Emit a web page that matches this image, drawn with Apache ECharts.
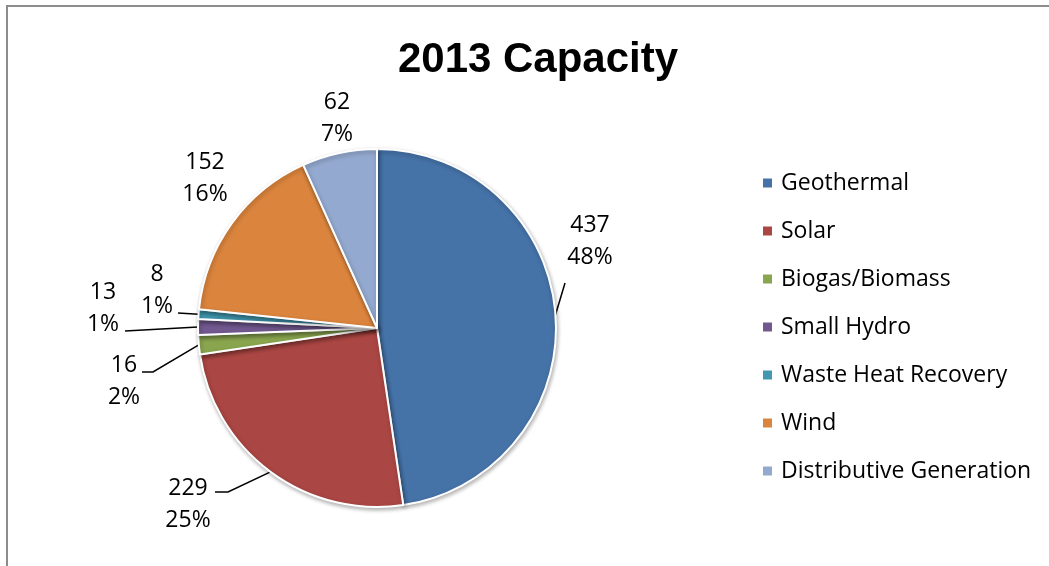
<!DOCTYPE html>
<html><head><meta charset="utf-8">
<script src="https://cdn.jsdelivr.net/npm/echarts@6/dist/echarts.min.js"></script>
<style>html,body{margin:0;padding:0;background:#fff;}#c{width:1049px;height:566px;}</style>
</head><body><div id="c"></div>
<script>
const categories = ['Geothermal','Solar','Biogas/Biomass','Small Hydro','Waste Heat Recovery','Wind','Distributive Generation'];
const values = [437, 229, 16, 13, 8, 152, 62];
const percentLabels = ['48%','25%','2%','1%','1%','16%','7%'];
const colors = ['#4572A7','#AA4643','#89A54E','#71588F','#4198AF','#DB843D','#93A9CF'];

// label placement (layout only, not data): centre of each label block, and leader-line bend/end points
const labelLayoutSpec = [
  {at:[590,241], bend:[565,283], end:[565,283]},
  {at:[188,504], bend:[228,492], end:[215,492]},
  {at:[124,381], bend:[153,372], end:[142,372]},
  {at:[103,308], bend:[125,331], end:[125,331]},
  {at:[157,290], bend:[178,313], end:[178,313]},
  {at:[205,178], bend:null},
  {at:[337,118], bend:null}
];

const chart = echarts.init(document.getElementById('c'));
const FONT = 'Open Sans';
chart.setOption({
  animation: false,
  graphic: [{type:'rect', shape:{x:7,y:6,width:1100,height:600}, style:{fill:'none', stroke:'#8c8c8c', lineWidth:2}}],
  title: {text:'2013 Capacity', left: 533, top: 34, textAlign:'center',
    textStyle:{fontFamily:'Liberation Sans', fontWeight:'bold', fontSize:42, color:'#000'}},
  legend: {orient:'vertical', left: 761, top: 171, padding:0, itemWidth:11, itemHeight:11, itemGap:24,
    icon:'rect', data: categories, selectedMode:false,
    textStyle:{fontFamily:FONT, fontSize:23, lineHeight:24, color:'#000', padding:[0,0,0,3]}},
  series: [{
    type:'pie', center:[377,328], radius:179, startAngle:90, clockwise:true,
    itemStyle:{borderColor:'#fff', borderWidth:2, shadowBlur:4, shadowColor:'rgba(0,0,0,0.3)', shadowOffsetX:1, shadowOffsetY:2},
    label:{show:true, position:'outside', fontFamily:FONT, fontSize:23, lineHeight:32, color:'#000', align:'center',
      formatter: p => p.value + '\n' + percentLabels[p.dataIndex]},
    labelLine:{show:true, length:15, length2:10, smooth:false, lineStyle:{color:'#000', width:1.5}},
    labelLayout: function (params) {
      const s = labelLayoutSpec[params.dataIndex];
      const out = {x: s.at[0], y: s.at[1], align:'center', verticalAlign:'middle'};
      if (s.bend && params.labelLinePoints) {
        const start = params.labelLinePoints[0];
        out.labelLinePoints = [start, s.bend, s.end];
      }
      return out;
    },
    emphasis:{disabled:true},
    data: categories.map((n,i)=>({name:n, value:values[i], itemStyle:{color:colors[i]},
      labelLine:{show: labelLayoutSpec[i].bend !== null}}))
  }]
});
</script></body></html>
